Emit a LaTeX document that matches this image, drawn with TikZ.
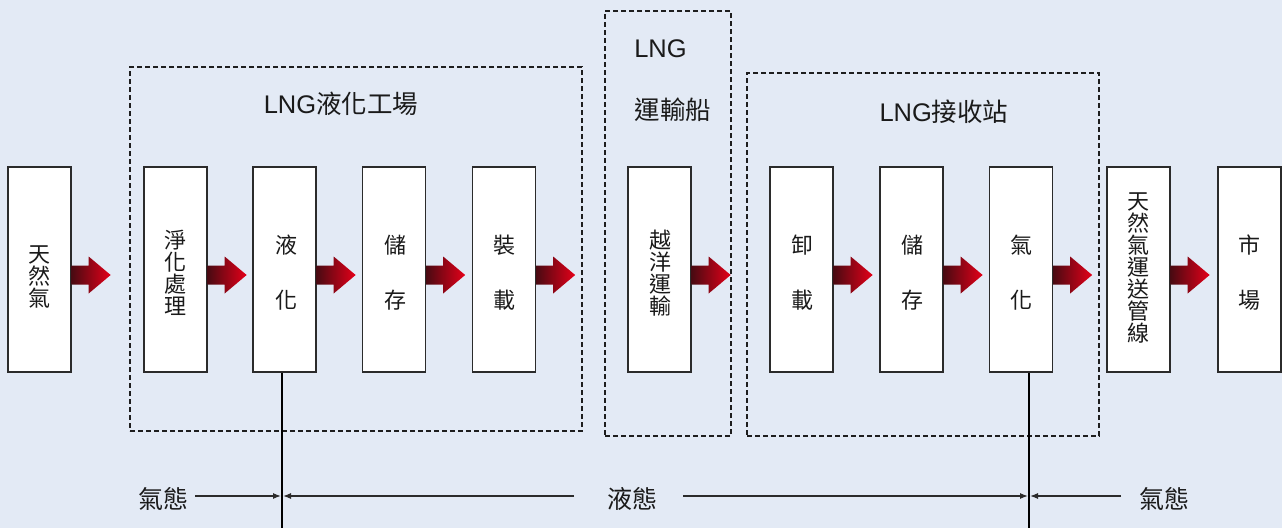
\documentclass[tikz,border=0pt]{standalone}
\usepackage{fontspec}
\setmainfont{Liberation Sans}
\newfontfamily\cjk{Noto Sans CJK TC}
\usetikzlibrary{arrows.meta,calc}
\setlength{\lineskiplimit}{-20pt}
\definecolor{bg}{HTML}{E3EAF5}
\definecolor{boxline}{HTML}{2B2B2B}
\definecolor{grpline}{HTML}{1E1E1E}
\definecolor{arrowdark}{HTML}{4A0A12}
\definecolor{arrowred}{HTML}{E40019}
\definecolor{txt}{HTML}{1A1A1A}
\newcommand\blockarrow[1]{%
  \begin{scope}[shift={($(#1.east)+(0,5.5)$)}]
    \shade[left color=arrowdark, right color=arrowred]
      (0,-9.5) -- (17,-9.5) -- (17,-18.5) -- (39,0) -- (17,18.5) -- (17,9.5) -- (0,9.5) -- cycle;
  \end{scope}}
\begin{document}
\begin{tikzpicture}[x=1pt,y=-1pt,
  stepbox/.style={draw=boxline, line width=1.3pt, fill=white, minimum width=63pt,
    minimum height=205pt, inner sep=0pt},
  boxtext/.style={inner sep=0pt, align=center, text=txt,
    font=\cjk\fontsize{22}{22}\selectfont},
  grpbox/.style={draw=grpline, line width=1.3pt, dash pattern=on 5pt off 3pt, inner sep=0pt},
  title/.style={text=txt, font=\fontsize{25.5}{25}\selectfont, inner sep=0pt},
  state/.style={text=txt, font=\cjk\fontsize{25}{25}\selectfont, inner sep=0pt},
  gline/.style={draw=boxline, line width=1.2pt},
  tip/.style={-{Latex[length=8pt,width=6pt]}},
  vline/.style={draw=black, line width=1.2pt}]
\useasboundingbox (0,0) rectangle (1282,528);
\fill[bg] (0,0) rectangle (1282,528);

% group frames
\node[grpbox, minimum width=452pt, minimum height=364pt] (plant) at (356,249) {};
\node[grpbox, minimum width=126pt, minimum height=425pt] (ship) at (668,223.5) {};
\node[grpbox, minimum width=352pt, minimum height=363pt] (terminal) at (923,254.5) {};

\node[title] (plantT) at (341,104) {LNG{\cjk 液化工場}};
\node[title] (shipT1) at (660.5,49) {LNG};
\node[title] (shipT2) at (673,110) {\cjk 運輸船};
\node[title] (termT) at (944,112) {LNG{\cjk 接收站}};

% process boxes
\node[stepbox] (gas) at (39.5,269.5) {};
\node[stepbox] (purify) at (175.5,269.5) {};
\node[stepbox] (liquefy) at (284.5,269.5) {};
\node[stepbox] (store1) at (394,269.5) {};
\node[stepbox] (load) at (504,269.5) {};
\node[stepbox] (ocean) at (659.5,269.5) {};
\node[stepbox] (unload) at (801.5,269.5) {};
\node[stepbox] (store2) at (911.5,269.5) {};
\node[stepbox] (regas) at (1021,269.5) {};
\node[stepbox] (pipe) at (1138.5,269.5) {};
\node[stepbox] (market) at (1249.5,269.5) {};

\node[boxtext] (gasT) at ($(gas.center)+(0,7.5)$) {天\\然\\氣};
\node[boxtext] (purifyT) at ($(purify.center)+(0,3.5)$) {淨\\化\\處\\理};
\node[boxtext] (liquefyT) at ($(liquefy.center)+(1.5,3)$) {液\\[33pt]化};
\node[boxtext] (store1T) at ($(store1.center)+(1,3)$) {儲\\[33pt]存};
\node[boxtext] (loadT) at ($(load.center)+(0,3)$) {裝\\[33pt]載};
\node[boxtext] (oceanT) at ($(ocean.center)+(1,3.5)$) {越\\洋\\運\\輸};
\node[boxtext] (unloadT) at ($(unload.center)+(1,3)$) {卸\\[33pt]載};
\node[boxtext] (store2T) at ($(store2.center)+(1,3)$) {儲\\[33pt]存};
\node[boxtext] (regasT) at ($(regas.center)+(0,3)$) {氣\\[33pt]化};
\node[boxtext] (pipeT) at ($(pipe.center)+(0,-2)$) {天\\然\\氣\\運\\送\\管\\線};
\node[boxtext] (marketT) at ($(market.center)+(0,3)$) {市\\[33pt]場};

% block arrows
\blockarrow{gas}
\blockarrow{purify}
\blockarrow{liquefy}
\blockarrow{store1}
\blockarrow{load}
\blockarrow{ocean}
\blockarrow{store2}
\blockarrow{unload}
\blockarrow{regas}
\blockarrow{pipe}

% phase lines
\coordinate (j1) at (282,496);
\coordinate (j2) at (1029,496);
\coordinate (b1) at (282,528);
\coordinate (b2) at (1029,528);
\coordinate (l1) at (574,496);
\coordinate (l2) at (683,496);
\coordinate (r1) at (1121,496);
\node[state] (gasL) at (163,499) {氣態};
\node[state] (liqT) at (632,499) {液態};
\node[state] (gasR) at (1164,499) {氣態};

\draw[vline] (liquefy.south -| b1) -- (b1);
\draw[vline] (regas.south -| b2) -- (b2);
\draw[gline,tip] ($(gasL.east |- j1)+(7,0)$) -- ($(j1)+(-1,0)$);
\draw[gline,tip] (l1) -- ($(j1)+(1,0)$);
\draw[gline,tip] (l2) -- ($(j2)+(-1,0)$);
\draw[gline,tip] (r1) -- ($(j2)+(1,0)$);
\end{tikzpicture}
\end{document}
